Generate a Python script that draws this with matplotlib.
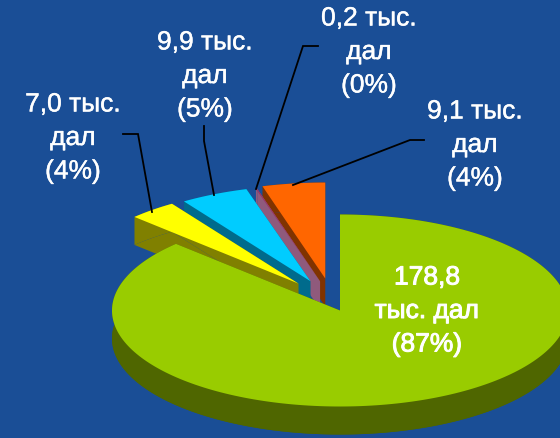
import numpy as np
import matplotlib
matplotlib.use("Agg")
import matplotlib.pyplot as plt
import matplotlib.patheffects as pe
from matplotlib.patches import Polygon

# data
series_values = [178.8, 7.0, 9.9, 0.2, 9.1]
percent_labels = ["87%", "4%", "5%", "0%", "4%"]
value_labels = ["178,8", "7,0", "9,9", "0,2", "9,1"]

# explosion of each slice (fraction of radius) and its direction (degrees)
explode = [0.0, 0.334, 0.331, 0.317, 0.339]
explode_dir = [0, 123, 113, 106, 101]

top_colors = ["#99CC00", "#FFFF00", "#00CCFF", "#993366", "#FF6600"]
wall_colors = ["#4F6600", "#808000", "#006B8C", "#8F5A7C", "#803300"]

BG = "#1A4E96"
CX, CY, RX, RY, DEPTH = 340, 311.5, 228, 96, 28
W, H = 560, 439

fig = plt.figure(figsize=(W / 100, H / 100), dpi=100, facecolor=BG)
ax = fig.add_axes([0, 0, 1, 1])
ax.set_xlim(0, W)
ax.set_ylim(H, 0)
ax.axis("off")

total = sum(series_values)
sweeps = [v / total * 360 for v in series_values]
starts = [90 - s for s in np.concatenate(([0], np.cumsum(sweeps)[:-1]))]


def sector(i):
    th = np.radians(np.linspace(starts[i], starts[i] - sweeps[i], 240))
    d = np.radians(explode_dir[i])
    ox = CX + RX * explode[i] * np.cos(d)
    oy = CY - RY * explode[i] * np.sin(d)
    return ox, oy, ox + RX * np.cos(th), oy - RY * np.sin(th)


# painter's order: back slices first, the big slice last
for i in [4, 3, 2, 1, 0]:
    ox, oy, arc_x, arc_y = sector(i)
    band_x = np.concatenate((arc_x, arc_x[::-1]))
    band_y = np.concatenate((arc_y, arc_y[::-1] + DEPTH))
    top = np.column_stack((np.r_[ox, arc_x], np.r_[oy, arc_y]))
    z = 2 + (4 - i) * 2
    ax.add_patch(Polygon(np.column_stack((band_x, band_y)), fc=wall_colors[i], ec="none", zorder=z))
    ax.add_patch(Polygon(top + [0, DEPTH], fc=wall_colors[i], ec="none", zorder=z))
    ax.add_patch(Polygon(np.array([[ox, oy], [arc_x[-1], arc_y[-1]],
                                   [arc_x[-1], arc_y[-1] + DEPTH], [ox, oy + DEPTH]]),
                         fc=wall_colors[i], ec="none", zorder=z))
    ax.add_patch(Polygon(top, fc=top_colors[i], ec="none", zorder=z + 1))

# leader lines
leaders = [
    ([123, 138, 152], [135, 135, 213]),
    ([204, 204, 214], [127, 142, 196]),
    ([318, 303, 256], [47, 47, 190]),
    ([424, 410, 293], [141, 141, 186]),
]
for lx, ly in leaders:
    ax.plot(lx, ly, color="black", lw=1.3, zorder=20, solid_joinstyle="miter")

# labels
label_pos = [(427, 312), (73, 139), (205, 77), (369, 53), (475, 146)]
FONT = "Liberation Sans"
FS = 19
for i, (lx, ly) in enumerate(label_pos):
    if i == 0:
        lines = [value_labels[i], "тыс. дал", f"({percent_labels[i]})"]
    else:
        lines = [f"{value_labels[i]} тыс.", "дал", f"({percent_labels[i]})"]
    stroke = 0.7 if i == 0 else 0.3
    for j, s in enumerate(lines):
        ax.text(lx, ly + (j - 1) * 33.5, s, color="white", fontsize=FS, family=FONT,
                ha="center", va="center", zorder=30,
                path_effects=[pe.withStroke(linewidth=stroke, foreground="white")])

fig.savefig("out.png", dpi=100, facecolor=BG)
